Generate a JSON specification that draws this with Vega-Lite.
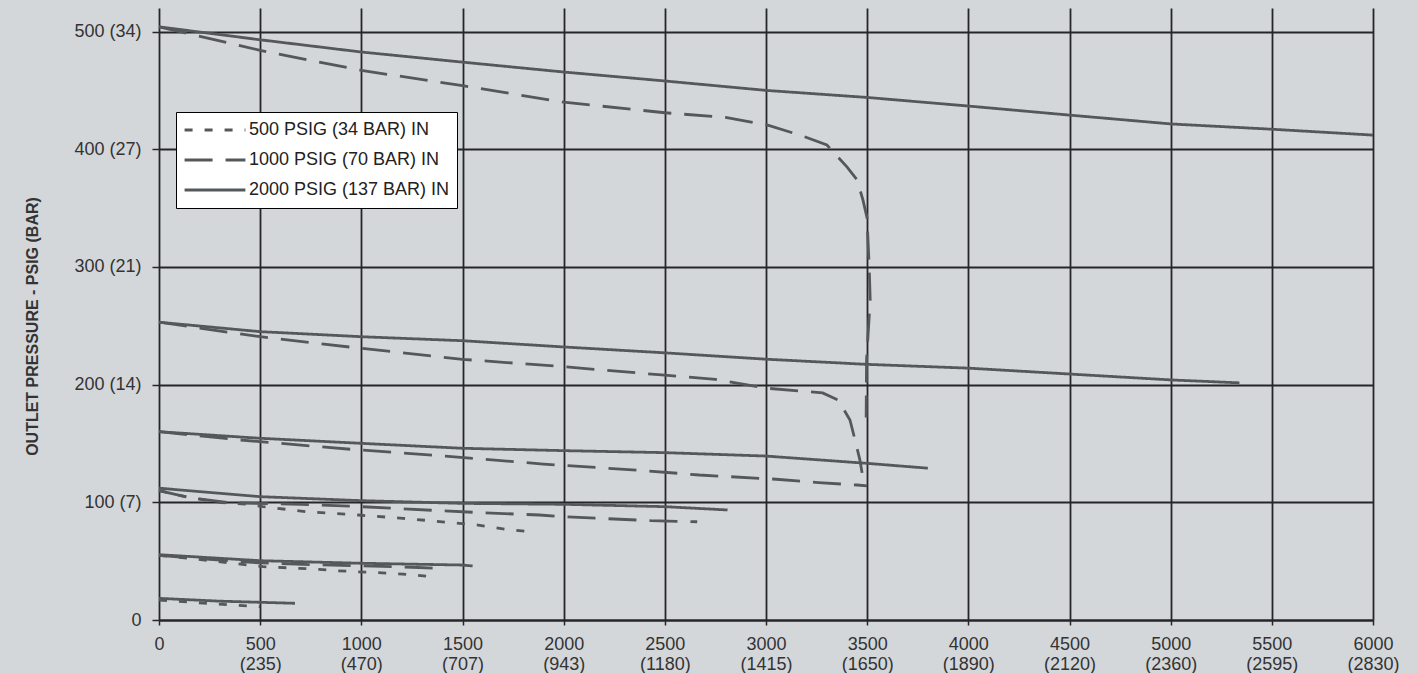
{
 "$schema": "https://vega.github.io/schema/vega-lite/v6.json",
 "width": 1214,
 "height": 612,
 "autosize": {"type": "none"},
 "padding": {"left": 159, "top": 8, "right": 44, "bottom": 53},
 "background": "#d4d7da",
 "config": {"view": {"stroke": null}, "font": "Liberation Sans"},
 "data": {"values": [
  {"curve":"2000-500","inlet":"2000 PSIG (137 BAR) IN","flow":0,"p":504},
  {"curve":"2000-500","inlet":"2000 PSIG (137 BAR) IN","flow":500,"p":493},
  {"curve":"2000-500","inlet":"2000 PSIG (137 BAR) IN","flow":1000,"p":482.6},
  {"curve":"2000-500","inlet":"2000 PSIG (137 BAR) IN","flow":1500,"p":474},
  {"curve":"2000-500","inlet":"2000 PSIG (137 BAR) IN","flow":2000,"p":465.6},
  {"curve":"2000-500","inlet":"2000 PSIG (137 BAR) IN","flow":2500,"p":458},
  {"curve":"2000-500","inlet":"2000 PSIG (137 BAR) IN","flow":3000,"p":450},
  {"curve":"2000-500","inlet":"2000 PSIG (137 BAR) IN","flow":3500,"p":444},
  {"curve":"2000-500","inlet":"2000 PSIG (137 BAR) IN","flow":4000,"p":436.7},
  {"curve":"2000-500","inlet":"2000 PSIG (137 BAR) IN","flow":4500,"p":429},
  {"curve":"2000-500","inlet":"2000 PSIG (137 BAR) IN","flow":5000,"p":421.5},
  {"curve":"2000-500","inlet":"2000 PSIG (137 BAR) IN","flow":5500,"p":417},
  {"curve":"2000-500","inlet":"2000 PSIG (137 BAR) IN","flow":6000,"p":412},

  {"curve":"1000-500","inlet":"1000 PSIG (70 BAR) IN","flow":0,"p":504},
  {"curve":"1000-500","inlet":"1000 PSIG (70 BAR) IN","flow":500,"p":484},
  {"curve":"1000-500","inlet":"1000 PSIG (70 BAR) IN","flow":1000,"p":467},
  {"curve":"1000-500","inlet":"1000 PSIG (70 BAR) IN","flow":1500,"p":454},
  {"curve":"1000-500","inlet":"1000 PSIG (70 BAR) IN","flow":2000,"p":440},
  {"curve":"1000-500","inlet":"1000 PSIG (70 BAR) IN","flow":2500,"p":431},
  {"curve":"1000-500","inlet":"1000 PSIG (70 BAR) IN","flow":2800,"p":427},
  {"curve":"1000-500","inlet":"1000 PSIG (70 BAR) IN","flow":3005,"p":420.6},
  {"curve":"1000-500","inlet":"1000 PSIG (70 BAR) IN","flow":3168,"p":412},
  {"curve":"1000-500","inlet":"1000 PSIG (70 BAR) IN","flow":3301,"p":403.6},
  {"curve":"1000-500","inlet":"1000 PSIG (70 BAR) IN","flow":3400,"p":385},
  {"curve":"1000-500","inlet":"1000 PSIG (70 BAR) IN","flow":3450,"p":374},
  {"curve":"1000-500","inlet":"1000 PSIG (70 BAR) IN","flow":3479,"p":357},
  {"curve":"1000-500","inlet":"1000 PSIG (70 BAR) IN","flow":3499,"p":342},
  {"curve":"1000-500","inlet":"1000 PSIG (70 BAR) IN","flow":3510,"p":300},
  {"curve":"1000-500","inlet":"1000 PSIG (70 BAR) IN","flow":3515,"p":272},
  {"curve":"1000-500","inlet":"1000 PSIG (70 BAR) IN","flow":3505,"p":244},
  {"curve":"1000-500","inlet":"1000 PSIG (70 BAR) IN","flow":3497,"p":221},
  {"curve":"1000-500","inlet":"1000 PSIG (70 BAR) IN","flow":3495,"p":172},

  {"curve":"2000-250","inlet":"2000 PSIG (137 BAR) IN","flow":0,"p":253},
  {"curve":"2000-250","inlet":"2000 PSIG (137 BAR) IN","flow":500,"p":245},
  {"curve":"2000-250","inlet":"2000 PSIG (137 BAR) IN","flow":1000,"p":240.7},
  {"curve":"2000-250","inlet":"2000 PSIG (137 BAR) IN","flow":1500,"p":237.3},
  {"curve":"2000-250","inlet":"2000 PSIG (137 BAR) IN","flow":2000,"p":232},
  {"curve":"2000-250","inlet":"2000 PSIG (137 BAR) IN","flow":2500,"p":227},
  {"curve":"2000-250","inlet":"2000 PSIG (137 BAR) IN","flow":3000,"p":221.6},
  {"curve":"2000-250","inlet":"2000 PSIG (137 BAR) IN","flow":3500,"p":217.2},
  {"curve":"2000-250","inlet":"2000 PSIG (137 BAR) IN","flow":4000,"p":214},
  {"curve":"2000-250","inlet":"2000 PSIG (137 BAR) IN","flow":4500,"p":209},
  {"curve":"2000-250","inlet":"2000 PSIG (137 BAR) IN","flow":5000,"p":204},
  {"curve":"2000-250","inlet":"2000 PSIG (137 BAR) IN","flow":5340,"p":201.5},

  {"curve":"1000-250","inlet":"1000 PSIG (70 BAR) IN","flow":0,"p":253},
  {"curve":"1000-250","inlet":"1000 PSIG (70 BAR) IN","flow":500,"p":240.7},
  {"curve":"1000-250","inlet":"1000 PSIG (70 BAR) IN","flow":1000,"p":230.8},
  {"curve":"1000-250","inlet":"1000 PSIG (70 BAR) IN","flow":1500,"p":221.5},
  {"curve":"1000-250","inlet":"1000 PSIG (70 BAR) IN","flow":2000,"p":215.2},
  {"curve":"1000-250","inlet":"1000 PSIG (70 BAR) IN","flow":2500,"p":208},
  {"curve":"1000-250","inlet":"1000 PSIG (70 BAR) IN","flow":2750,"p":204.5},
  {"curve":"1000-250","inlet":"1000 PSIG (70 BAR) IN","flow":3000,"p":197},
  {"curve":"1000-250","inlet":"1000 PSIG (70 BAR) IN","flow":3280,"p":193},
  {"curve":"1000-250","inlet":"1000 PSIG (70 BAR) IN","flow":3356,"p":187},
  {"curve":"1000-250","inlet":"1000 PSIG (70 BAR) IN","flow":3415,"p":170},
  {"curve":"1000-250","inlet":"1000 PSIG (70 BAR) IN","flow":3440,"p":153},
  {"curve":"1000-250","inlet":"1000 PSIG (70 BAR) IN","flow":3464,"p":136},
  {"curve":"1000-250","inlet":"1000 PSIG (70 BAR) IN","flow":3475,"p":125},

  {"curve":"2000-157","inlet":"2000 PSIG (137 BAR) IN","flow":0,"p":160},
  {"curve":"2000-157","inlet":"2000 PSIG (137 BAR) IN","flow":500,"p":154.4},
  {"curve":"2000-157","inlet":"2000 PSIG (137 BAR) IN","flow":1000,"p":150.1},
  {"curve":"2000-157","inlet":"2000 PSIG (137 BAR) IN","flow":1500,"p":145.9},
  {"curve":"2000-157","inlet":"2000 PSIG (137 BAR) IN","flow":2000,"p":143.9},
  {"curve":"2000-157","inlet":"2000 PSIG (137 BAR) IN","flow":2500,"p":142.2},
  {"curve":"2000-157","inlet":"2000 PSIG (137 BAR) IN","flow":3000,"p":139.3},
  {"curve":"2000-157","inlet":"2000 PSIG (137 BAR) IN","flow":3500,"p":133.1},
  {"curve":"2000-157","inlet":"2000 PSIG (137 BAR) IN","flow":3800,"p":129},

  {"curve":"1000-157","inlet":"1000 PSIG (70 BAR) IN","flow":0,"p":160},
  {"curve":"1000-157","inlet":"1000 PSIG (70 BAR) IN","flow":400,"p":153},
  {"curve":"1000-157","inlet":"1000 PSIG (70 BAR) IN","flow":950,"p":145},
  {"curve":"1000-157","inlet":"1000 PSIG (70 BAR) IN","flow":1415,"p":139.3},
  {"curve":"1000-157","inlet":"1000 PSIG (70 BAR) IN","flow":1900,"p":132.5},
  {"curve":"1000-157","inlet":"1000 PSIG (70 BAR) IN","flow":2400,"p":126.9},
  {"curve":"1000-157","inlet":"1000 PSIG (70 BAR) IN","flow":2670,"p":123.2},
  {"curve":"1000-157","inlet":"1000 PSIG (70 BAR) IN","flow":3050,"p":119.6},
  {"curve":"1000-157","inlet":"1000 PSIG (70 BAR) IN","flow":3260,"p":116.7},
  {"curve":"1000-157","inlet":"1000 PSIG (70 BAR) IN","flow":3450,"p":114.7},
  {"curve":"1000-157","inlet":"1000 PSIG (70 BAR) IN","flow":3500,"p":114},

  {"curve":"2000-110","inlet":"2000 PSIG (137 BAR) IN","flow":0,"p":112},
  {"curve":"2000-110","inlet":"2000 PSIG (137 BAR) IN","flow":500,"p":104.8},
  {"curve":"2000-110","inlet":"2000 PSIG (137 BAR) IN","flow":1000,"p":101.4},
  {"curve":"2000-110","inlet":"2000 PSIG (137 BAR) IN","flow":1500,"p":99.1},
  {"curve":"2000-110","inlet":"2000 PSIG (137 BAR) IN","flow":2000,"p":98.3},
  {"curve":"2000-110","inlet":"2000 PSIG (137 BAR) IN","flow":2500,"p":96.3},
  {"curve":"2000-110","inlet":"2000 PSIG (137 BAR) IN","flow":2810,"p":93.5},

  {"curve":"1000-110","inlet":"1000 PSIG (70 BAR) IN","flow":0,"p":110},
  {"curve":"1000-110","inlet":"1000 PSIG (70 BAR) IN","flow":150,"p":104},
  {"curve":"1000-110","inlet":"1000 PSIG (70 BAR) IN","flow":350,"p":99.6},
  {"curve":"1000-110","inlet":"1000 PSIG (70 BAR) IN","flow":700,"p":98.3},
  {"curve":"1000-110","inlet":"1000 PSIG (70 BAR) IN","flow":1000,"p":96.3},
  {"curve":"1000-110","inlet":"1000 PSIG (70 BAR) IN","flow":1390,"p":92.9},
  {"curve":"1000-110","inlet":"1000 PSIG (70 BAR) IN","flow":1590,"p":91.2},
  {"curve":"1000-110","inlet":"1000 PSIG (70 BAR) IN","flow":1880,"p":89.2},
  {"curve":"1000-110","inlet":"1000 PSIG (70 BAR) IN","flow":2000,"p":87.8},
  {"curve":"1000-110","inlet":"1000 PSIG (70 BAR) IN","flow":2430,"p":84.4},
  {"curve":"1000-110","inlet":"1000 PSIG (70 BAR) IN","flow":2660,"p":83.5},

  {"curve":"500-110","inlet":"500 PSIG (34 BAR) IN","flow":0,"p":110},
  {"curve":"500-110","inlet":"500 PSIG (34 BAR) IN","flow":150,"p":104},
  {"curve":"500-110","inlet":"500 PSIG (34 BAR) IN","flow":310,"p":99.7},
  {"curve":"500-110","inlet":"500 PSIG (34 BAR) IN","flow":435,"p":98.3},
  {"curve":"500-110","inlet":"500 PSIG (34 BAR) IN","flow":514,"p":96.3},
  {"curve":"500-110","inlet":"500 PSIG (34 BAR) IN","flow":731,"p":92},
  {"curve":"500-110","inlet":"500 PSIG (34 BAR) IN","flow":983,"p":89.2},
  {"curve":"500-110","inlet":"500 PSIG (34 BAR) IN","flow":1206,"p":86.4},
  {"curve":"500-110","inlet":"500 PSIG (34 BAR) IN","flow":1448,"p":82.7},
  {"curve":"500-110","inlet":"500 PSIG (34 BAR) IN","flow":1577,"p":80.7},
  {"curve":"500-110","inlet":"500 PSIG (34 BAR) IN","flow":1710,"p":77.1},
  {"curve":"500-110","inlet":"500 PSIG (34 BAR) IN","flow":1824,"p":75.1},

  {"curve":"2000-55","inlet":"2000 PSIG (137 BAR) IN","flow":0,"p":55.5},
  {"curve":"2000-55","inlet":"2000 PSIG (137 BAR) IN","flow":500,"p":50.4},
  {"curve":"2000-55","inlet":"2000 PSIG (137 BAR) IN","flow":1000,"p":48.2},
  {"curve":"2000-55","inlet":"2000 PSIG (137 BAR) IN","flow":1500,"p":46.7},
  {"curve":"2000-55","inlet":"2000 PSIG (137 BAR) IN","flow":1550,"p":45.9},

  {"curve":"1000-55","inlet":"1000 PSIG (70 BAR) IN","flow":0,"p":55},
  {"curve":"1000-55","inlet":"1000 PSIG (70 BAR) IN","flow":250,"p":51.5},
  {"curve":"1000-55","inlet":"1000 PSIG (70 BAR) IN","flow":500,"p":48.5},
  {"curve":"1000-55","inlet":"1000 PSIG (70 BAR) IN","flow":750,"p":47},
  {"curve":"1000-55","inlet":"1000 PSIG (70 BAR) IN","flow":1000,"p":46},
  {"curve":"1000-55","inlet":"1000 PSIG (70 BAR) IN","flow":1250,"p":44.8},
  {"curve":"1000-55","inlet":"1000 PSIG (70 BAR) IN","flow":1370,"p":44},

  {"curve":"500-55","inlet":"500 PSIG (34 BAR) IN","flow":0,"p":55},
  {"curve":"500-55","inlet":"500 PSIG (34 BAR) IN","flow":250,"p":50.5},
  {"curve":"500-55","inlet":"500 PSIG (34 BAR) IN","flow":514,"p":45.3},
  {"curve":"500-55","inlet":"500 PSIG (34 BAR) IN","flow":692,"p":43.9},
  {"curve":"500-55","inlet":"500 PSIG (34 BAR) IN","flow":791,"p":43},
  {"curve":"500-55","inlet":"500 PSIG (34 BAR) IN","flow":870,"p":41.9},
  {"curve":"500-55","inlet":"500 PSIG (34 BAR) IN","flow":979,"p":41},
  {"curve":"500-55","inlet":"500 PSIG (34 BAR) IN","flow":1082,"p":40.2},
  {"curve":"500-55","inlet":"500 PSIG (34 BAR) IN","flow":1206,"p":39},
  {"curve":"500-55","inlet":"500 PSIG (34 BAR) IN","flow":1354,"p":36.8},

  {"curve":"2000-15","inlet":"2000 PSIG (137 BAR) IN","flow":0,"p":18.4},
  {"curve":"2000-15","inlet":"2000 PSIG (137 BAR) IN","flow":300,"p":16},
  {"curve":"2000-15","inlet":"2000 PSIG (137 BAR) IN","flow":672,"p":14.2},

  {"curve":"500-15","inlet":"500 PSIG (34 BAR) IN","flow":0,"p":17},
  {"curve":"500-15","inlet":"500 PSIG (34 BAR) IN","flow":250,"p":14},
  {"curve":"500-15","inlet":"500 PSIG (34 BAR) IN","flow":500,"p":11.3}
 ]},
 "mark": {"type": "line", "color": "#55585b", "strokeWidth": 2.8, "strokeCap": "butt"},
 "encoding": {
  "x": {
   "field": "flow", "type": "quantitative",
   "scale": {"domain": [0, 6000], "nice": false, "zero": false},
   "axis": {
    "title": null,
    "values": [0,500,1000,1500,2000,2500,3000,3500,4000,4500,5000,5500,6000],
    "grid": true, "gridColor": "#262626", "gridWidth": 1.8, "gridOpacity": 1,
    "domain": true, "domainColor": "#262626", "domainWidth": 2,
    "ticks": true, "tickColor": "#262626", "tickSize": 5, "tickWidth": 1.5,
    "labelFontSize": 18, "labelColor": "#333333", "labelLineHeight": 20,
    "labelPadding": 10, "labelFlush": false, "labelOverlap": false, "labelBaseline": "top",
    "labelExpr": "datum.value === 0 ? '0' : [format(datum.value, 'd'), ['', '(235)', '(470)', '(707)', '(943)', '(1180)', '(1415)', '(1650)', '(1890)', '(2120)', '(2360)', '(2595)', '(2830)'][datum.value / 500]]"
   }
  },
  "y": {
   "field": "p", "type": "quantitative",
   "scale": {"domain": [0, 520], "nice": false},
   "axis": {
    "title": "OUTLET PRESSURE - PSIG (BAR)",
    "titleFontSize": 16, "titleFontWeight": "bold", "titleColor": "#333333",
    "titleX": -127, "titleY": 318, "titleAngle": -90, "titleAlign": "center", "titleBaseline": "middle",
    "values": [0,100,200,300,400,500],
    "grid": true, "gridColor": "#262626", "gridWidth": 1.8, "gridOpacity": 1,
    "domain": false,
    "ticks": true, "tickColor": "#262626", "tickSize": 7, "tickWidth": 1.5,
    "labelFontSize": 18, "labelColor": "#333333", "labelPadding": 11,
    "labelExpr": "['0', '100 (7)', '200 (14)', '300 (21)', '400 (27)', '500 (34)'][datum.value / 100]"
   }
  },
  "detail": {"field": "curve", "type": "nominal"},
  "order": {"field": "p", "sort": "descending"},
  "strokeDash": {
   "field": "inlet", "type": "nominal",
   "scale": {
    "domain": ["500 PSIG (34 BAR) IN", "1000 PSIG (70 BAR) IN", "2000 PSIG (137 BAR) IN"],
    "range": [[8, 12], [28, 13], [1, 0]]
   },
   "legend": {
    "title": null, "orient": "none", "legendX": 17, "legendY": 104,
    "fillColor": "#ffffff", "strokeColor": "#000000", "padding": 7,
    "symbolType": "stroke", "symbolSize": 3700, "symbolStrokeWidth": 3,
    "symbolStrokeColor": "#55585b",
    "labelFontSize": 18, "labelColor": "#222222", "labelOffset": 2,
    "clipHeight": 22, "rowPadding": 8, "labelLimit": 400
   }
  }
 }
}
